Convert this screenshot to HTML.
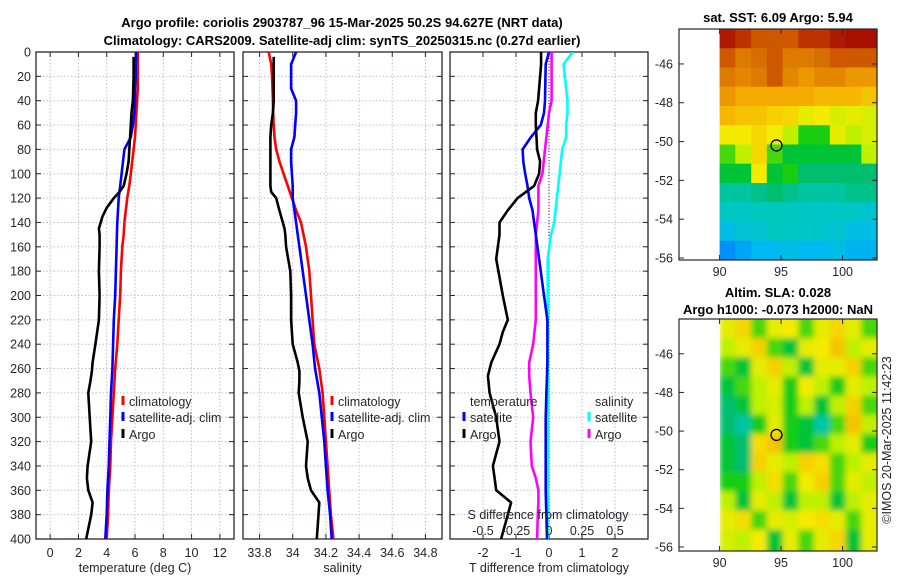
<!DOCTYPE html>
<html><head><meta charset="utf-8"><style>
html,body{margin:0;padding:0;background:#fff;}
svg{display:block;font-family:"Liberation Sans",sans-serif;}
.t{font-size:12.5px;fill:#262626;}
.ttl{font-size:13px;font-weight:bold;fill:#000;}
</style></head><body>
<svg id="fig" width="900" height="580" viewBox="0 0 900 580" xmlns="http://www.w3.org/2000/svg">
<defs>
<clipPath id="c1"><rect x="36" y="52" width="198" height="487"/></clipPath>
<clipPath id="c2"><rect x="243" y="52" width="199" height="487"/></clipPath>
<clipPath id="c3"><rect x="450" y="52" width="198" height="487"/></clipPath>
<clipPath id="cm2"><rect x="720" y="319" width="157" height="232"/></clipPath>
<filter id="blur" filterUnits="userSpaceOnUse" x="700" y="300" width="200" height="270"><feGaussianBlur stdDeviation="3"/></filter>
</defs>
<text class="ttl" x="342" y="27" text-anchor="middle">Argo profile: coriolis 2903787_96 15-Mar-2025 50.2S 94.627E (NRT data)</text>
<text class="ttl" x="342" y="45" text-anchor="middle">Climatology: CARS2009. Satellite-adj clim: synTS_20250315.nc (0.27d earlier)</text>
<g id="layer"></g>
<text class="ttl" x="778" y="22" text-anchor="middle">sat. SST: 6.09 Argo: 5.94</text>
<text class="ttl" x="778" y="297" text-anchor="middle">Altim. SLA: 0.028</text>
<text class="ttl" x="778" y="314" text-anchor="middle">Argo h1000: -0.073 h2000: NaN</text>
<text class="t" transform="translate(891,440) rotate(-90)" text-anchor="middle">©IMOS 20-Mar-2025 11:42:23</text>
</svg>
<script>
// ---- profile data (depth in m) ----
const depthT = [0,10,20,30,40,50,60,70,80,90,100,110,120,130,140,150,160,180,200,220,240,260,280,300,320,340,360,380,400];
const climT = [6.2,6.2,6.2,6.2,6.15,6.1,6.05,6.0,5.9,5.8,5.7,5.6,5.45,5.35,5.25,5.2,5.1,5.0,4.95,4.85,4.75,4.6,4.5,4.4,4.3,4.25,4.15,4.1,4.0];
const satT = [6.1,6.05,6.05,6.0,6.0,5.95,5.85,5.7,5.25,5.15,5.05,4.95,4.85,4.8,4.75,4.72,4.7,4.65,4.6,4.5,4.45,4.4,4.3,4.25,4.2,4.15,4.05,4.0,3.9];
const depthArgo = [4,20,40,50,60,70,80,90,100,110,115,120,128,135,145,150,160,180,200,220,240,255,262,270,280,300,320,340,350,360,370,380,400];
const argoT = [5.9,5.9,5.85,5.75,5.7,5.65,5.6,5.55,5.4,5.2,4.9,4.5,4.0,3.7,3.45,3.5,3.5,3.45,3.5,3.45,3.2,3.0,2.95,2.85,2.7,2.8,2.9,2.65,2.6,2.7,3.0,2.9,2.55];
const climS = [33.855,33.87,33.875,33.878,33.88,33.882,33.885,33.89,33.9,33.92,33.945,33.97,33.995,34.02,34.05,34.065,34.08,34.1,34.11,34.12,34.13,34.16,34.18,34.19,34.2,34.21,34.22,34.23,34.245];
const satS = [34.02,33.99,33.99,33.99,34.02,34.02,34.015,34.01,33.99,33.99,33.995,34.0,34.0,34.01,34.02,34.03,34.04,34.06,34.08,34.1,34.12,34.135,34.16,34.175,34.19,34.2,34.21,34.225,34.235];
const argoS = [33.885,33.885,33.885,33.88,33.87,33.865,33.865,33.865,33.865,33.865,33.87,33.9,33.915,33.93,33.95,33.955,33.96,33.985,33.99,33.99,34.0,34.03,34.04,34.04,34.036,34.06,34.09,34.08,34.09,34.11,34.16,34.155,34.145];
// ---- differences from climatology ----
const depthDiff = [0,10,40,50,60,70,80,90,100,110,120,130,140,150,170,200,220,230,240,255,266,280,300,320,340,350,360,370,380,400];
const diffTArgo = [-0.24,-0.24,-0.33,-0.4,-0.4,-0.38,-0.36,-0.27,-0.3,-0.45,-0.95,-1.25,-1.5,-1.5,-1.6,-1.4,-1.25,-1.4,-1.5,-1.75,-1.85,-1.8,-1.6,-1.5,-1.7,-1.65,-1.6,-1.15,-1.25,-1.45];
const diffTSat = [0,-0.1,-0.12,-0.15,-0.25,-0.55,-0.8,-0.78,-0.72,-0.65,-0.6,-0.5,-0.45,-0.4,-0.3,-0.15,-0.05,-0.05,-0.05,-0.05,-0.06,-0.08,-0.1,-0.1,-0.1,-0.1,-0.1,-0.09,-0.08,-0.06];
const diffSArgo = [0.02,0.02,0.02,0.0,-0.01,-0.02,-0.03,-0.04,-0.05,-0.08,-0.08,-0.08,-0.09,-0.1,-0.1,-0.1,-0.1,-0.11,-0.12,-0.15,-0.15,-0.14,-0.12,-0.14,-0.13,-0.1,-0.08,-0.08,-0.085,-0.09];
const diffSSat = [0.18,0.11,0.14,0.14,0.13,0.13,0.1,0.09,0.08,0.07,0.06,0.05,0.04,0.015,-0.01,-0.01,-0.01,-0.01,-0.01,-0.01,-0.01,-0.01,-0.01,-0.01,-0.01,-0.01,-0.01,-0.01,-0.01,-0.01];
// ---- tick labels ----
const depthTicks = [0,20,40,60,80,100,120,140,160,180,200,220,240,260,280,300,320,340,360,380,400];
const tempTicks = [0,2,4,6,8,10,12];
const salTicks = [33.8,34,34.2,34.4,34.6,34.8];
const salTickLabels = ["33.8","34","34.2","34.4","34.6","34.8"];
const tdiffTicks = [-2,-1,0,1,2];
const sdiffTicks = [-0.5,-0.25,0,0.25,0.5];
const sdiffTickLabels = ["-0.5","-0.25","0","0.25","0.5"];
const latTicks = [-46,-48,-50,-52,-54,-56];
const lonTicks = [90,95,100];
// ---- map grids (colormap fraction), rows north→south, cols west→east ----
const sstGrid = [
[0.95,0.9,0.85,0.85,0.85,0.9,0.9,0.95,0.97,0.97],
[0.85,0.8,0.82,0.85,0.8,0.8,0.82,0.85,0.85,0.85],
[0.8,0.78,0.8,0.85,0.78,0.75,0.78,0.78,0.75,0.75],
[0.75,0.72,0.72,0.72,0.72,0.72,0.7,0.7,0.7,0.68],
[0.7,0.68,0.68,0.66,0.65,0.6,0.62,0.58,0.6,0.58],
[0.62,0.62,0.65,0.62,0.55,0.48,0.48,0.6,0.55,0.58],
[0.5,0.55,0.65,0.5,0.45,0.45,0.45,0.45,0.45,0.55],
[0.45,0.45,0.62,0.45,0.48,0.42,0.42,0.42,0.42,0.42],
[0.38,0.38,0.4,0.42,0.4,0.38,0.38,0.38,0.4,0.4],
[0.35,0.35,0.36,0.36,0.36,0.35,0.35,0.35,0.35,0.33],
[0.3,0.33,0.33,0.36,0.35,0.35,0.34,0.33,0.3,0.3],
[0.22,0.25,0.28,0.28,0.3,0.28,0.28,0.3,0.27,0.27]];
const slaGrid = [
[0.6,0.65,0.5,0.6,0.62,0.5,0.6,0.65,0.6,0.5],
[0.55,0.6,0.66,0.5,0.45,0.6,0.62,0.68,0.55,0.6],
[0.5,0.45,0.6,0.66,0.55,0.45,0.6,0.6,0.66,0.5],
[0.45,0.5,0.55,0.6,0.48,0.62,0.55,0.48,0.6,0.55],
[0.42,0.45,0.55,0.58,0.48,0.55,0.45,0.55,0.66,0.5],
[0.42,0.38,0.48,0.6,0.48,0.45,0.38,0.5,0.68,0.55],
[0.45,0.42,0.64,0.68,0.48,0.45,0.5,0.55,0.6,0.48],
[0.45,0.42,0.66,0.6,0.55,0.66,0.64,0.5,0.55,0.6],
[0.48,0.48,0.55,0.64,0.5,0.62,0.66,0.5,0.6,0.55],
[0.55,0.45,0.6,0.55,0.45,0.55,0.55,0.45,0.55,0.6],
[0.6,0.64,0.5,0.6,0.58,0.62,0.64,0.6,0.5,0.6],
[0.58,0.55,0.62,0.45,0.6,0.5,0.6,0.65,0.45,0.6]];
const argoLon = 94.627, argoLat = -50.2;

const NS='http://www.w3.org/2000/svg';
const L=document.getElementById('layer');
function mk(tag,attrs,parent){const e=document.createElementNS(NS,tag);for(const k in attrs)e.setAttribute(k,attrs[k]);(parent||L).appendChild(e);return e;}
const yD=d=>52+d*(487/400);
function lin(d0,d1,r0,r1){return v=>r0+(v-d0)*(r1-r0)/(d1-d0);}
const x1=lin(-1,13,36,234), x2=lin(33.7,34.9,243,442), x3=lin(-3,3,450,648), xS=lin(-0.75,0.75,450,648);

function panel(name,l,r,xs,ticks,labels,clip,xlabel){
  const g=mk('g',{});
  
  
  depthTicks.forEach(d=>{const y=yD(d);const ln=mk('line',{x1:l,x2:r,y1:y,y2:y,stroke:'#b8c0e8','stroke-width':1,'stroke-dasharray':'1.5,2'},g);
    
    });
  ticks.forEach((v,i)=>{const x=xs(v);const ln=mk('line',{x1:x,x2:x,y1:52,y2:539,stroke:'#c8b8d8','stroke-width':1,'stroke-dasharray':'1.5,2'},g);
    
    
    mk('line',{x1:x,x2:x,y1:539,y2:534,stroke:'#262626'},g);mk('line',{x1:x,x2:x,y1:52,y2:57,stroke:'#262626'},g);
    const t=mk('text',{x:x,y:557,'text-anchor':'middle',class:'t'},g);t.textContent=labels[i];
    
    });
  depthTicks.forEach(d=>{const y=yD(d);mk('line',{x1:l,x2:l+5,y1:y,y2:y,stroke:'#262626'},g);mk('line',{x1:r-5,x2:r,y1:y,y2:y,stroke:'#262626'},g);});
  mk('rect',{x:l,y:52,width:r-l,height:487,fill:'none',stroke:'#262626','stroke-width':1.3},g);
  const xl=mk('text',{x:(l+r)/2,y:572,'text-anchor':'middle',class:'t'},g);xl.textContent=xlabel;
  
  
  return g;
}
function line(name,xs,depths,vals,color,clip){
  const pts=vals.map((v,i)=>xs(v).toFixed(1)+','+yD(depths[i]).toFixed(1)).join(' ');
  const p=mk('polyline',{points:pts,fill:'none',stroke:color,'stroke-width':2.6,'stroke-linejoin':'round','clip-path':'url(#'+clip+')'});
  
  
}
function legend(x,y,color,label,name){
  const g=mk('g',{});
  
  
  mk('line',{x1:x,x2:x,y1:y-10,y2:y-1,stroke:color,'stroke-width':3},g);
  const t=mk('text',{x:x+6,y:y,class:'t'},g);t.textContent=label;
}
// Panel 1: temperature
panel('temperature-panel',36,234,x1,tempTicks,tempTicks.map(String),'c1','temperature (deg C)');
depthTicks.forEach(d=>{const t=mk('text',{x:31,y:yD(d)+4.5,'text-anchor':'end',class:'t'});t.textContent=d;
  
  });
line('temp-climatology-line',x1,depthT,climT,'#ff0000','c1');
line('temp-satellite-line',x1,depthT,satT,'#0000ff','c1');
line('temp-argo-line',x1,depthArgo,argoT,'#000000','c1');
legend(123,406,'#ff0000','climatology','legend-climatology');
legend(123,422,'#0000ff','satellite-adj. clim','legend-satellite-adj');
legend(123,439,'#000000','Argo','legend-argo');
// Panel 2: salinity
panel('salinity-panel',243,442,x2,salTicks,salTickLabels,'c2','salinity');
line('sal-climatology-line',x2,depthT,climS,'#ff0000','c2');
line('sal-satellite-line',x2,depthT,satS,'#0000ff','c2');
line('sal-argo-line',x2,depthArgo,argoS,'#000000','c2');
legend(332,406,'#ff0000','climatology','legend-climatology-sal');
legend(332,422,'#0000ff','satellite-adj. clim','legend-satellite-adj-sal');
legend(332,439,'#000000','Argo','legend-argo-sal');
// Panel 3: differences
panel('difference-panel',450,648,x3,tdiffTicks,tdiffTicks.map(String),'c3','T difference from climatology');
const z=mk('line',{x1:x3(0),x2:x3(0),y1:52,y2:539,stroke:'#333','stroke-width':1,'stroke-dasharray':'1,2'});


line('sdiff-satellite-line',xS,depthDiff,diffSSat,'#00ffff','c3');
line('sdiff-argo-line',xS,depthDiff,diffSArgo,'#ff00ff','c3');
line('tdiff-satellite-line',x3,depthDiff,diffTSat,'#0000ff','c3');
line('tdiff-argo-line',x3,depthDiff,diffTArgo,'#000000','c3');
{const t=mk('text',{x:470,y:406,class:'t'});t.textContent='temperature';
 
 
 const s=mk('text',{x:595,y:406,class:'t'});s.textContent='salinity';
 
 }
legend(464,422,'#0000ff','satellite','legend-tdiff-satellite');
legend(464,439,'#000000','Argo','legend-tdiff-argo');
legend(589,422,'#00ffff','satellite','legend-sdiff-satellite');
legend(589,439,'#ff00ff','Argo','legend-sdiff-argo');
{const t=mk('text',{x:548,y:519,'text-anchor':'middle',class:'t'});t.textContent='S difference from climatology';
 
 }
sdiffTicks.forEach((v,i)=>{const t=mk('text',{x:xS(v),y:535,'text-anchor':'middle',class:'t'});t.textContent=sdiffTickLabels[i];
  
  });

// ---- maps ----
const cmapStops=[[0,[0,60,220]],[0.2,[0,130,255]],[0.28,[0,185,240]],[0.36,[0,200,190]],[0.42,[0,190,110]],[0.47,[0,200,20]],[0.55,[190,240,0]],[0.62,[245,235,0]],[0.72,[245,170,0]],[0.82,[215,110,0]],[0.9,[190,50,0]],[1,[160,0,0]]];
function cmap(v){v=Math.max(0,Math.min(1,v));for(let i=1;i<cmapStops.length;i++){const a=cmapStops[i-1],b=cmapStops[i];if(v<=b[0]){const f=(v-a[0])/(b[0]-a[0]);
  return 'rgb('+a[1].map((c,k)=>Math.round(c+(b[1][k]-c)*f)).join(',')+')';}}return 'rgb(160,0,0)';}
function map(name,top,bot,grid,blur){
  const lx=lin(86.7,102.8,679,877), ly=lin(-44.2,bot.lat,top,bot.y);
  const g=mk('g',{});
  
  
  const hg=mk('g',blur?{'clip-path':'url(#cm2)'}:{},g);
  const inner=mk('g',blur?{filter:'url(#blur)'}:{},hg);
  const rows=grid.length, cols=grid[0].length;
  const lon0=90, lon1=102.8, lat0=-44.2, lat1=-56.1;
  grid.forEach((row,ri)=>row.forEach((v,ci)=>{
    let xa=lx(lon0+(lon1-lon0)*ci/cols), xb=lx(lon0+(lon1-lon0)*(ci+1)/cols);
    let ya=ly(lat0+(lat1-lat0)*ri/rows), yb=ly(lat0+(lat1-lat0)*(ri+1)/rows);
    if(blur){ if(ci===cols-1) xb+=8; if(ri===0) ya-=8; if(ri===rows-1) yb+=8; }
    const c=mk('rect',{x:xa.toFixed(1),y:ya.toFixed(1),width:(xb-xa+0.6).toFixed(1),height:(yb-ya+0.6).toFixed(1),fill:cmap(v)},inner);
    
    
  }));
  const bottom=bot.y+(bot.y===258?2:4);
  mk('rect',{x:679,y:top,width:198,height:bottom-top,fill:'none',stroke:'#262626','stroke-width':1.2},g);
  latTicks.forEach(la=>{const y=ly(la);mk('line',{x1:679,x2:684,y1:y,y2:y,stroke:'#262626'},g);mk('line',{x1:872,x2:877,y1:y,y2:y,stroke:'#262626'},g);
    const t=mk('text',{x:673,y:y+4.5,'text-anchor':'end',class:'t'},g);t.textContent=la;
    
    });
  lonTicks.forEach(lo=>{const x=lx(lo);mk('line',{x1:x,x2:x,y1:bottom,y2:bottom-5,stroke:'#262626'},g);mk('line',{x1:x,x2:x,y1:top,y2:top+5,stroke:'#262626'},g);
    const t=mk('text',{x:x,y:bottom+16,'text-anchor':'middle',class:'t'},g);t.textContent=lo;
    
    });
  const m=mk('ellipse',{cx:lx(argoLon),cy:ly(argoLat),rx:5.5,ry:5.5,fill:'none',stroke:'#000','stroke-width':1.3},g);
  
  
}
map('sst-map',29,{lat:-56,y:258},sstGrid,false);
map('sla-map',319,{lat:-56,y:547},slaGrid,true);
</script>
</body></html>
